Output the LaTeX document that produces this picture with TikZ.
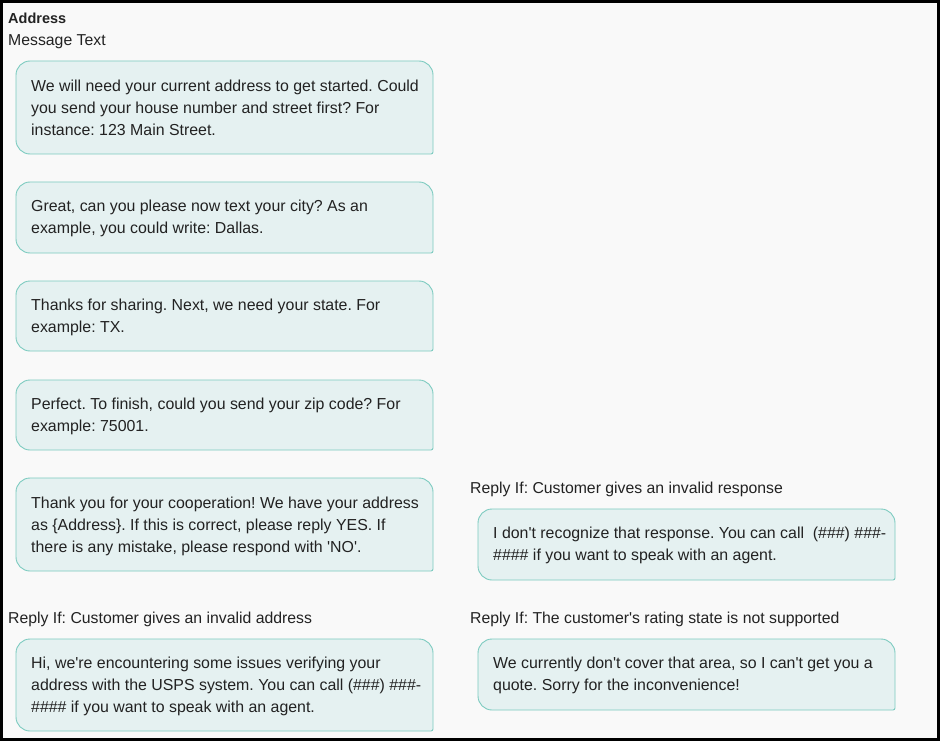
\documentclass[tikz,border=0pt]{standalone}
\usepackage{fontspec}
\setmainfont{Liberation Sans}
\frenchspacing
\definecolor{pagebg}{HTML}{F9F9F9}
\definecolor{bubfill}{HTML}{E5F1F1}
\definecolor{bubline}{HTML}{7CCBC0}
\definecolor{ink}{HTML}{222222}
\newcommand{\ap}{\textquotesingle}
\newcommand{\topstrut}{\rule{0pt}{12pt}}
\begin{document}
\begin{tikzpicture}[x=1pt,y=-1pt,
  msg/.style={anchor=north west,inner sep=0pt,align=left,text=ink,font=\fontsize{15.9}{22}\selectfont},
  lbl/.style={anchor=base west,inner sep=0pt,text=ink,font=\fontsize{15.8}{18}\selectfont},
  bub/.style={fill=bubfill,draw=bubline,line width=0.9pt}]
\useasboundingbox (0,0) rectangle (940,741);
\fill[pagebg] (0,0) rectangle (940,741);
\draw[line width=2.6pt] (1.3,1.3) rectangle (938.7,739.5);
% bubble outline: three round corners, bottom right nearly square
\newcommand{\bubblebox}[4]{% x1 y1 x2 y2
  \draw[bub] (#1,{(#2+#4)/2}) [rounded corners=14pt] -- (#1,#2) -- (#3,#2) [rounded corners=2pt] -- (#3,#4) [rounded corners=14pt] -- (#1,#4) -- cycle;}
\node[lbl,font=\bfseries\fontsize{14.5}{18}\selectfont] (title) at (8,24) {Address};
\node[lbl] (sub) at (8,46) {Message Text};
% left column
\bubblebox{16}{61}{433}{154}
\node[msg] (m1) at (31,79) {\topstrut We will need your current address to get started. Could\\you send your house number and street first? For\\instance: 123 Main Street.};
\bubblebox{16}{182}{433}{253}
\node[msg] (m2) at (31,199) {\topstrut Great, can you please now text your city? As an\\example, you could write: Dallas.};
\bubblebox{16}{281}{433}{351}
\node[msg] (m3) at (31,298) {\topstrut Thanks for sharing. Next, we need your state. For\\example: TX.};
\bubblebox{16}{380}{433}{450}
\node[msg] (m4) at (31,397) {\topstrut Perfect. To finish, could you send your zip code? For\\example: 75001.};
\bubblebox{16}{478}{433}{571}
\node[msg] (m5) at (31,496) {\topstrut Thank you for your cooperation! We have your address\\as \{Address\}. If this is correct, please reply YES. If\\there is any mistake, please respond with \ap NO\ap.};
\node[lbl] (l1) at (8,623) {Reply If: Customer gives an invalid address};
\bubblebox{16}{639}{433}{731}
\node[msg] (m6) at (31,656) {\topstrut Hi, we\ap re encountering some issues verifying your\\address with the USPS system. You can call (\#\#\#) \#\#\#-\\\#\#\#\# if you want to speak with an agent.};
% right column
\node[lbl] (l2) at (470,493) {Reply If: Customer gives an invalid response};
\bubblebox{478}{509}{895}{580}
\node[msg] (r1) at (493,526) {\topstrut I don\ap t recognize that response. You can call \ (\#\#\#) \#\#\#-\\\#\#\#\# if you want to speak with an agent.};
\node[lbl] (l3) at (470,623) {Reply If: The customer\ap s rating state is not supported};
\bubblebox{478}{639}{895}{710}
\node[msg] (r2) at (493,656) {\topstrut We currently don\ap t cover that area, so I can\ap t get you a\\quote. Sorry for the inconvenience!};
\end{tikzpicture}
\end{document}
